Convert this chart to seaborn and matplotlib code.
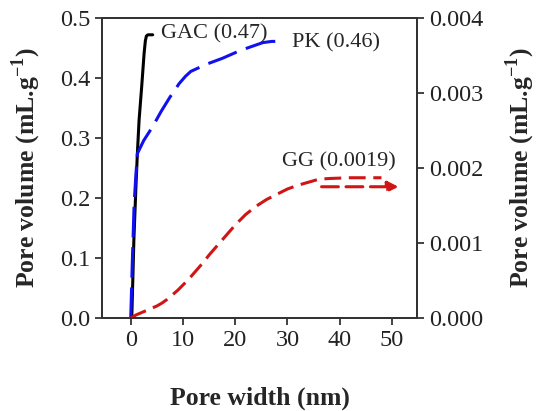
import numpy as np
import pandas as pd
import matplotlib
matplotlib.use("Agg")
import matplotlib.pyplot as plt
from matplotlib.ticker import FormatStrFormatter
import seaborn as sns

# pore size distributions (cumulative pore volume)
gac_width = [0.0, 0.2, 0.6, 1.0, 1.27, 1.6, 2.1, 2.56, 2.8, 3.0, 3.3, 4.2]
gac_volume = [0.0, 0.0, 0.13, 0.22, 0.274, 0.33, 0.386, 0.441, 0.462, 0.470, 0.472, 0.472]

pk_width = [0.0, 0.3, 0.65, 1.0, 1.27, 2.5, 4.2, 5.8, 7.5, 9.3, 10.5, 11.5, 14.5, 17.6,
            21.0, 25.3, 27.0, 29.5]
pk_volume = [0.0, 0.092, 0.19, 0.24, 0.274, 0.296, 0.319, 0.344, 0.368, 0.391, 0.403,
             0.411, 0.423, 0.433, 0.446, 0.459, 0.461, 0.461]

gg_width = [0.0, 1.0, 2.0, 3.0, 4.0, 5.0, 6.0, 7.0, 8.0, 9.0, 10.0, 11.0, 12.0, 13.0,
            14.0, 15.0, 16.0, 17.0, 18.0, 19.0, 20.0, 22.0, 24.0, 26.0, 28.0, 30.0,
            32.0, 34.0, 36.0, 38.0, 42.0, 48.0]
gg_volume = [0.0, 0.00004, 0.00007, 0.0001, 0.00013, 0.00016, 0.0002, 0.00025, 0.00031,
             0.00037, 0.00044, 0.00051, 0.00059, 0.00067, 0.00075, 0.00084, 0.00092,
             0.001, 0.00108, 0.00116, 0.00124, 0.00138, 0.00149, 0.00158, 0.00165,
             0.00172, 0.00177, 0.00181, 0.00185, 0.00186, 0.00187, 0.00187]

labels = ["GAC (0.47)", "PK (0.46)", "GG (0.0019)"]

gac = pd.DataFrame({"width": gac_width, "volume": gac_volume})
pk = pd.DataFrame({"width": pk_width, "volume": pk_volume})
gg = pd.DataFrame({"width": gg_width, "volume": gg_volume})

sns.set_style("ticks")
plt.rcParams["font.family"] = ["Liberation Serif", "DejaVu Serif"]
plt.rcParams["mathtext.fontset"] = "custom"
plt.rcParams["mathtext.rm"] = "Liberation Serif"
plt.rcParams["mathtext.bf"] = "Liberation Serif:bold"

fig = plt.figure(figsize=(5.38, 4.11), dpi=100)
ax = fig.add_axes([102 / 538, 1 - 318 / 411, 315 / 538, 300 / 411])
ax2 = ax.twinx()

sns.lineplot(data=gac, x="width", y="volume", ax=ax, color="black", lw=2.2,
             estimator=None, sort=False)
sns.lineplot(data=pk, x="width", y="volume", ax=ax, color="#1010f0", lw=2.2,
             estimator=None, sort=False)
ax.lines[-1].set_dashes((10, 3.2))
sns.lineplot(data=gg, x="width", y="volume", ax=ax2, color="#d01515", lw=2.2,
             estimator=None, sort=False)
ax2.lines[-1].set_dashes((5.5, 2.5))

# arrow pointing at the right axis
ax2.annotate("", xy=(51.8, 0.00175), xytext=(36.0, 0.00175),
             arrowprops=dict(arrowstyle="-|>", color="#d01515", lw=2.2,
                             linestyle=(0, (5.5, 2.5)), mutation_scale=16))

ax.text(5.8, 0.474, labels[0], fontsize=16, va="center")
ax.text(30.8, 0.459, labels[1], fontsize=16, va="center")
ax.text(29.0, 0.261, labels[2], fontsize=16, va="center")

ax.set_xlim(-5.5, 54.8)
ax.set_ylim(0, 0.5)
ax2.set_ylim(0, 0.004)
ax.set_xticks([0, 10, 20, 30, 40, 50])
ax.set_yticks(np.arange(0, 0.51, 0.1))
ax2.set_yticks(np.arange(0, 0.0041, 0.001))
ax.yaxis.set_major_formatter(FormatStrFormatter("%.1f"))
ax2.yaxis.set_major_formatter(FormatStrFormatter("%.3f"))

ax.set_xlabel("Pore width (nm)", fontsize=18.5, fontweight="bold", labelpad=26)
ax.set_ylabel(r"Pore volume (mL.g$^{\mathbf{-1}}$)", fontsize=18.5, fontweight="bold", labelpad=12)
ax2.set_ylabel(r"Pore volume (mL.g$^{\mathbf{-1}}$)", fontsize=18.5, fontweight="bold",
               rotation=90, labelpad=15)

for a in (ax, ax2):
    a.tick_params(labelsize=17.5, direction="out", length=5, width=1.2, colors="#222222")
    for s in a.spines.values():
        s.set_visible(True)
        s.set_color("#333333")
        s.set_linewidth(1.4)

fig.savefig("out.png", dpi=100)
